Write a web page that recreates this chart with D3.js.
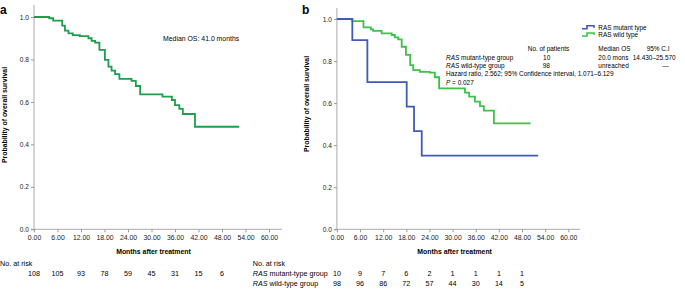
<!DOCTYPE html>
<html>
<head>
<meta charset="utf-8">
<script src="https://cdn.jsdelivr.net/npm/d3@7"></script>
<style>
  body { margin: 0; background: #fff; }
  svg { display: block; font-family: "Liberation Sans", Arial, sans-serif; }
  .axis text { fill: #222; }
  .axis line { stroke: #999; }
</style>
</head>
<body>
<div id="chart"></div>
<script>
let w = 685;
let h = 289;

// data
let xTicks = [0, 6, 12, 18, 24, 30, 36, 42, 48, 54, 60];
let yTicks = [0, 0.2, 0.4, 0.6, 0.8, 1.0];
let riskMonths = [0, 6, 12, 18, 24, 30, 36, 42, 48];

// panel a: all patients  [month, survival]
let allSteps = [[0, 1.0], [3.9, 0.994], [4.9, 0.983], [7.2, 0.959], [7.9, 0.936], [8.8, 0.923],
  [9.9, 0.915], [11.7, 0.91], [13.9, 0.90], [14.7, 0.888], [15.6, 0.879], [16.7, 0.845],
  [18.1, 0.798], [19.0, 0.766], [19.8, 0.747], [20.7, 0.731], [21.8, 0.709], [24.9, 0.699],
  [26.0, 0.675], [27.1, 0.636], [32.8, 0.625], [35.2, 0.609], [36.0, 0.585], [37.1, 0.567],
  [38.0, 0.543], [41.1, 0.483]];
let allEnd = 52.4;
let allRisk = [108, 105, 93, 78, 59, 45, 31, 15, 6];

// panel b
let mutantSteps = [[0, 1.0], [4.0, 0.9], [7.9, 0.7], [18.1, 0.583], [20.0, 0.467], [22.0, 0.35]];
let mutantEnd = 52.2;
let wildSteps = [[0, 1.0], [4.0, 0.99], [6.9, 0.96], [8.8, 0.951], [9.4, 0.944], [11.6, 0.932],
  [14.2, 0.924], [15.0, 0.913], [15.9, 0.903], [16.8, 0.868], [17.9, 0.829], [19.0, 0.781],
  [19.8, 0.757], [21.5, 0.749], [24.1, 0.745], [25.4, 0.723], [26.5, 0.670], [33.2, 0.650],
  [34.3, 0.631], [35.8, 0.607], [37.1, 0.586], [38.1, 0.564], [40.7, 0.504]];
let wildEnd = 50.2;
let mutantRisk = [10, 9, 7, 6, 2, 1, 1, 1, 1];
let wildRisk = [98, 96, 86, 72, 57, 44, 30, 14, 5];

let svg = d3.select("#chart").append("svg")
  .attr("width", w)
  .attr("height", h)
  .attr("viewBox", "0 0 " + w + " " + h);

function withEnd(steps, end) {
  return steps.concat([[end, steps[steps.length - 1][1]]]);
}

function drawPanel(opt) {
  let x = d3.scaleLinear().domain([0, 60]).range([opt.x0, opt.x1]);
  let y = d3.scaleLinear().domain([0, 1]).range([229.3, opt.yTop]);
  let g = svg.append("g");

  // axis lines
  g.append("line").attr("x1", x(0)).attr("x2", x(0)).attr("y1", opt.axisTop).attr("y2", y(0))
    .attr("stroke", "#aaa").attr("stroke-width", 1);
  g.append("line").attr("x1", x(0) - 3).attr("x2", opt.axisRight).attr("y1", y(0)).attr("y2", y(0))
    .attr("stroke", "#aaa").attr("stroke-width", 1);

  let yAxis = g.append("g").attr("class", "axis")
    .attr("transform", "translate(" + x(0) + ",0)")
    .call(d3.axisLeft(y).tickValues(yTicks).tickFormat(d3.format(".1f")).tickSize(3).tickPadding(2));
  yAxis.select(".domain").remove();
  yAxis.selectAll("text").style("font-size", "6.6px");

  let xAxis = g.append("g").attr("class", "axis")
    .attr("transform", "translate(0," + y(0) + ")")
    .call(d3.axisBottom(x).tickValues(xTicks).tickFormat(d3.format(".2f")).tickSize(3).tickPadding(3));
  xAxis.select(".domain").remove();
  xAxis.selectAll("text").style("font-size", "6.9px");

  g.append("text")
    .attr("transform", "translate(" + opt.yLabelX + "," + opt.yLabelY + ") rotate(-90)")
    .attr("text-anchor", "middle")
    .attr("dominant-baseline", "central")
    .style("font-size", "6.9px").style("font-weight", "bold")
    .text("Probability of overall survival");

  g.append("text")
    .attr("x", (x(0) + x(60)) / 2 + 2).attr("y", 253.5)
    .attr("text-anchor", "middle")
    .style("font-size", "6.9px").style("font-weight", "bold")
    .text("Months after treatment");

  g.append("text")
    .attr("x", opt.letterX).attr("y", 14)
    .style("font-size", "12px").style("font-weight", "bold")
    .text(opt.letter);

  let line = d3.line()
    .x(d => x(d[0]))
    .y(d => y(d[1]))
    .curve(d3.curveStepAfter);

  opt.curves.forEach(c => {
    g.append("path")
      .attr("d", line(withEnd(c.steps, c.end)))
      .attr("fill", "none")
      .attr("stroke", c.color)
      .attr("stroke-width", 1.8);
  });

  return { g: g, x: x, y: y };
}

// ---- panel a
let pa = drawPanel({
  x0: 34, x1: 269, axisRight: 282, yTop: 17, axisTop: 5,
  yLabelX: 4.5, yLabelY: 115, letter: "a", letterX: 0,
  curves: [{ steps: allSteps, end: allEnd, color: "#1f9d4c" }]
});

pa.g.append("text")
  .attr("x", 163).attr("y", 41)
  .style("font-size", "6.9px")
  .text("Median OS: 41.0 months");

pa.g.append("text").attr("x", 0).attr("y", 265.5).style("font-size", "7.2px").text("No. at risk");
pa.g.selectAll(".riskA").data(allRisk).enter().append("text")
  .attr("x", (d, i) => pa.x(riskMonths[i]))
  .attr("y", 275.5)
  .attr("text-anchor", "middle")
  .style("font-size", "7.2px")
  .text(d => d);

// ---- panel b
let pb = drawPanel({
  x0: 336.9, x1: 568.3, axisRight: 580, yTop: 19, axisTop: 8,
  yLabelX: 306, yLabelY: 104, letter: "b", letterX: 302,
  curves: [
    { steps: wildSteps, end: wildEnd, color: "#3cc14b" },
    { steps: mutantSteps, end: mutantEnd, color: "#3f5cb5" }
  ]
});

// legend
let legendItems = [
  { label: "RAS mutant type", color: "#3f5cb5", y: 27.3 },
  { label: "RAS wild type", color: "#3cc14b", y: 34.5 }
];
legendItems.forEach(d => {
  pb.g.append("path")
    .attr("d", "M582," + (d.y + 1.5) + "h5v-3h7v2")
    .attr("fill", "none").attr("stroke", d.color).attr("stroke-width", 1.6);
  pb.g.append("text")
    .attr("x", 598.3).attr("y", d.y + 2.3)
    .style("font-size", "6.4px")
    .text(d.label);
});

// summary table
let fs = "6.45px";
function tx(xp, yp, txt, anchor) {
  return pb.g.append("text").attr("x", xp).attr("y", yp + 2.3)
    .attr("text-anchor", anchor || "start")
    .style("font-size", fs).text(txt);
}
tx(548.5, 48.3, "No. of patients", "middle");
tx(598.3, 48.3, "Median OS");
tx(646.7, 48.3, "95% C.I");

let r1 = tx(446, 57.3, "");
r1.append("tspan").style("font-style", "italic").text("RAS");
r1.append("tspan").text(" mutant-type group");
tx(546.7, 57.3, "10", "middle");
tx(598.3, 57.3, "20.0 mons");
tx(632.7, 57.3, "14.430–25.570");

let r2 = tx(446, 65.7, "");
r2.append("tspan").style("font-style", "italic").text("RAS");
r2.append("tspan").text(" wild-type group");
tx(546.3, 65.7, "98", "middle");
tx(598.3, 65.7, "unreached");
tx(665.5, 65.7, "—", "middle");

tx(446, 74, "Hazard ratio, 2.562; 95% Confidence interval, 1.071–6.129");
let r4 = tx(446, 82.5, "");
r4.append("tspan").style("font-style", "italic").text("P");
r4.append("tspan").text(" = 0.027");

// risk table b
pb.g.append("text").attr("x", 252.7).attr("y", 265.8).style("font-size", "7.2px").text("No. at risk");
let groups = [
  { label: " mutant-type group", values: mutantRisk, y: 275.8 },
  { label: " wild-type group", values: wildRisk, y: 285.8 }
];
groups.forEach(gr => {
  let t = pb.g.append("text").attr("x", 252.7).attr("y", gr.y).style("font-size", "7.2px");
  t.append("tspan").style("font-style", "italic").text("RAS");
  t.append("tspan").text(gr.label);
  pb.g.selectAll(null).data(gr.values).enter().append("text")
    .attr("x", (d, i) => pb.x(riskMonths[i]))
    .attr("y", gr.y)
    .attr("text-anchor", "middle")
    .style("font-size", "7.2px")
    .text(d => d);
});
</script>
</body>
</html>
